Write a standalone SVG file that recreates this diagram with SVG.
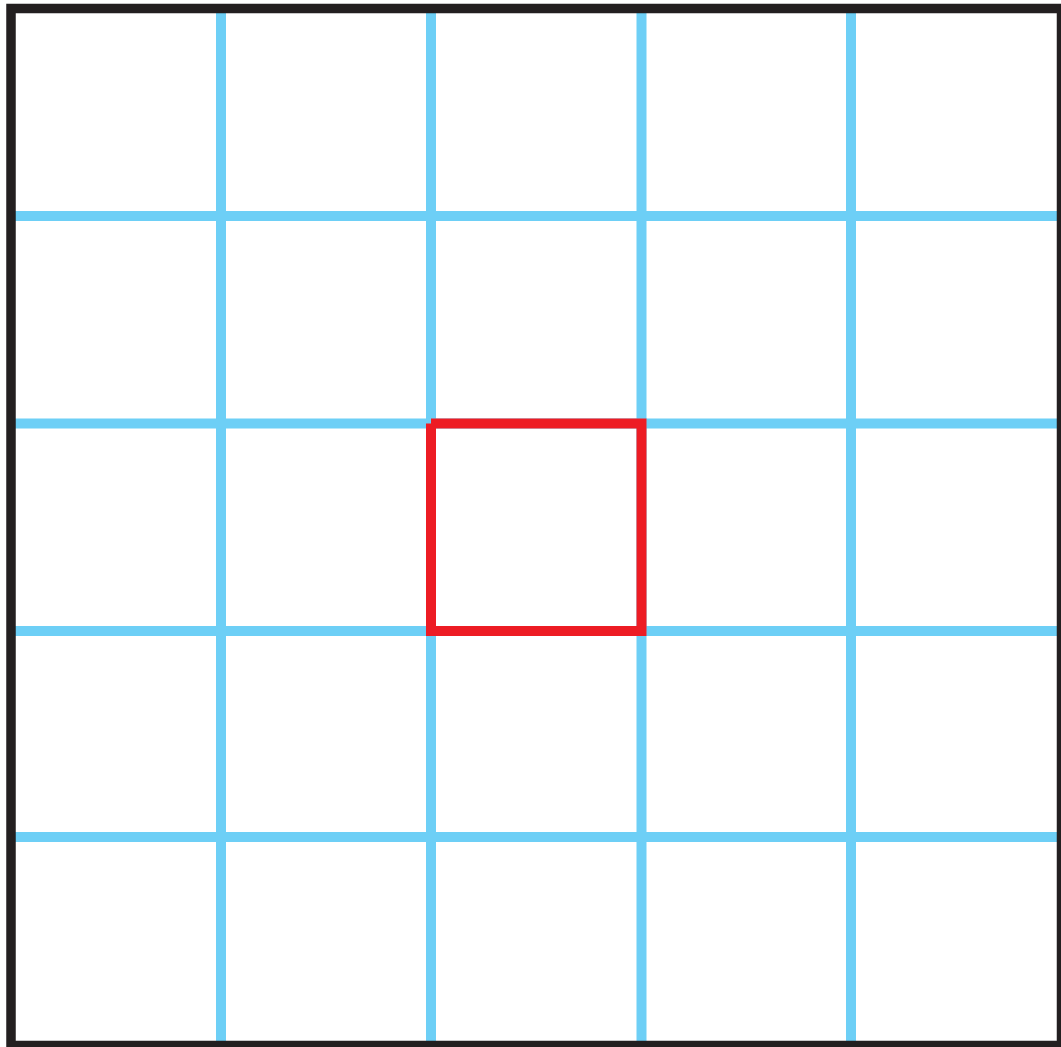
<svg xmlns="http://www.w3.org/2000/svg" width="1061" height="1047" viewBox="0 0 1061 1047">
<style>
.grid{stroke:#6DCFF6;stroke-width:10;fill:none}
.sel{stroke:#ED1C24;stroke-width:10;fill:none;stroke-linejoin:miter}
.frame{stroke:#231F20;stroke-width:9.5;fill:none}
</style>
<rect width="1061" height="1047" fill="#FFFFFF"/>
<g id="connectors">
<g id="grid-vertical" class="grid">
<line x1="221" y1="10" x2="221" y2="1044"/>
<line x1="431" y1="10" x2="431" y2="1044"/>
<line x1="641.5" y1="10" x2="641.5" y2="1044"/>
<line x1="851" y1="10" x2="851" y2="1044"/>
</g>
<g id="grid-horizontal" class="grid">
<line x1="12" y1="216" x2="1059" y2="216"/>
<line x1="12" y1="423.5" x2="1059" y2="423.5"/>
<line x1="12" y1="631" x2="1059" y2="631"/>
<line x1="12" y1="837" x2="1059" y2="837"/>
</g>
</g>
<g id="highlight-cell">
<path class="sel" d="M431 423.5 H641.5 V631 H431 V423.5"/>
</g>
<g id="frame">
<rect class="frame" x="11" y="8.5" width="1050.5" height="1037"/>
</g>
</svg>
